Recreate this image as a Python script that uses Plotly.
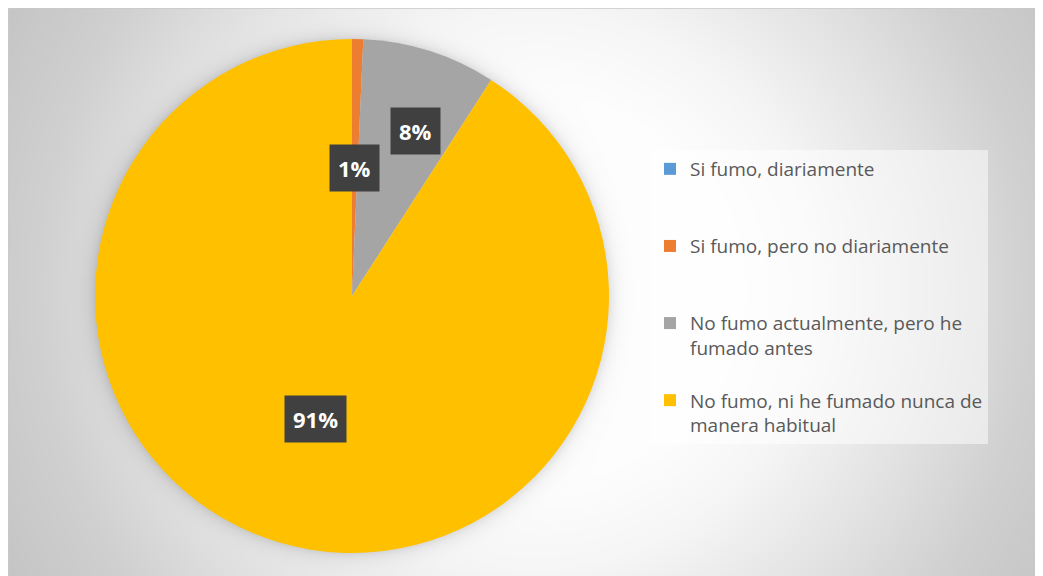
import base64
import math
import struct
import zlib

import numpy as np
import plotly.graph_objects as go

# ---------------- data ----------------
categories = [
    "Si fumo, diariamente",
    "Si fumo, pero no diariamente",
    "No fumo actualmente, pero he fumado antes",
    "No fumo, ni he fumado nunca de manera habitual",
]
legend_text = [
    "Si fumo, diariamente",
    "Si fumo, pero no diariamente",
    "No fumo actualmente, pero he<br>fumado antes",
    "No fumo, ni he fumado nunca de<br>manera habitual",
]
values = [0.0, 0.7, 8.4, 90.9]
colors = ["#5B9BD5", "#ED7D31", "#A5A5A5", "#FFC000"]

# label placement style (radius fraction, angular nudge in degrees)
label_radius = [0.5, 0.5, 0.69, 0.5]
label_nudge = [0.0, 0.0, 3.5, 0.0]

# figure (page body adds an 8px offset; figure overflows to the window edge)
W, H = 1043, 576
PIE_L, PIE_R, PIE_T, PIE_B = 87, 601, 31, 545  # pie bounding box in figure px
PCX, PCY, PR = (PIE_L + PIE_R) / 2, (PIE_T + PIE_B) / 2, (PIE_R - PIE_L) / 2

# ---------------- background gradient image ----------------
def png_data_uri(arr):
    h, w = arr.shape
    raw = b"".join(b"\x00" + bytes(arr[r].astype(np.uint8)) for r in range(h))

    def chunk(tag, data):
        c = struct.pack(">I", len(data)) + tag + data
        return c + struct.pack(">I", zlib.crc32(tag + data) & 0xFFFFFFFF)

    png = b"\x89PNG\r\n\x1a\n"
    png += chunk(b"IHDR", struct.pack(">IIBBBBB", w, h, 8, 0, 0, 0, 0))
    png += chunk(b"IDAT", zlib.compress(raw, 9))
    png += chunk(b"IEND", b"")
    return "data:image/png;base64," + base64.b64encode(png).decode()

S = 2
gw, gh = W // S, H // S
yy, xx = np.mgrid[0:gh, 0:gw]
px = (xx + 0.5) * W / gw
py = (yy + 0.5) * H / gh
d = np.sqrt((px - 527.0) ** 2 + (py - 282.0) ** 2)
grad = np.interp(d, [0, 200, 280, 400, 500, 600], [255, 253, 246, 226, 208, 197])
# soft shadow around the pie
dp = np.sqrt((px - PCX) ** 2 + (py - PCY) ** 2) - PR
shadow = np.where(dp > 0, 28 * np.exp(-dp / 7.0), 28)
grad = np.clip(grad - shadow, 0, 255)
bg_uri = png_data_uri(grad)

# ---------------- figure ----------------
dom_x = [PIE_L / W, PIE_R / W]
dom_y = [(H - PIE_B) / H, (H - PIE_T) / H]

n_lines = [t.count("<br>") + 1 for t in legend_text]
pad_lines = [
    t + ("<br> " * (3 - n) if i < len(legend_text) - 1 else "")
    for i, (t, n) in enumerate(zip(legend_text, n_lines))
]

fig = go.Figure()
fig.add_trace(
    go.Pie(
        labels=pad_lines,
        values=values,
        marker=dict(colors=colors, line=dict(width=0)),
        sort=False,
        direction="clockwise",
        rotation=0,
        textinfo="none",
        hoverinfo="label+percent",
        domain=dict(x=dom_x, y=dom_y),
        showlegend=True,
    )
)

# data labels computed from the values
total = sum(values)
cx = (dom_x[0] + dom_x[1]) / 2
cy = (dom_y[0] + dom_y[1]) / 2
cum = 0.0
for v, rf, nd in zip(values, label_radius, label_nudge):
    mid = (cum + v / 2) / total * 360 + nd
    cum += v
    if v <= 0:
        continue
    ang = math.radians(mid)
    dx = rf * PR * math.sin(ang)
    dy = rf * PR * math.cos(ang)
    fig.add_annotation(
        x=cx + dx / W,
        y=cy + dy / H,
        xref="paper",
        yref="paper",
        text="<b>%d%%</b>" % round(v / total * 100),
        showarrow=False,
        font=dict(family="Open Sans", size=22, color="white"),
        bgcolor="#404040",
        borderpad=8,
        xanchor="center",
        yanchor="middle",
    )

border = dict(color="#c8c8c8", width=1.5)
fig.update_layout(
    width=W,
    height=H,
    margin=dict(l=0, t=0, r=0, b=0),
    paper_bgcolor="white",
    plot_bgcolor="white",
    images=[
        dict(
            source=bg_uri,
            xref="paper",
            yref="paper",
            x=0,
            y=1,
            sizex=1,
            sizey=1,
            xanchor="left",
            yanchor="top",
            sizing="stretch",
            layer="below",
        )
    ],
    shapes=[
        dict(type="line", xref="paper", yref="paper", x0=0, x1=1, y0=1, y1=1,
             line=border, layer="below"),
        dict(type="line", xref="paper", yref="paper", x0=0, x1=0, y0=0, y1=1,
             line=border, layer="below"),
    ],
    legend=dict(
        x=642 / W,
        y=(H - 142) / H,
        xanchor="left",
        yanchor="top",
        bgcolor="rgba(255,255,255,0.5)",
        font=dict(family="Open Sans", size=19, color="#595959"),
        valign="top",
        itemclick=False,
    ),
)

fig.write_html("out.html")
